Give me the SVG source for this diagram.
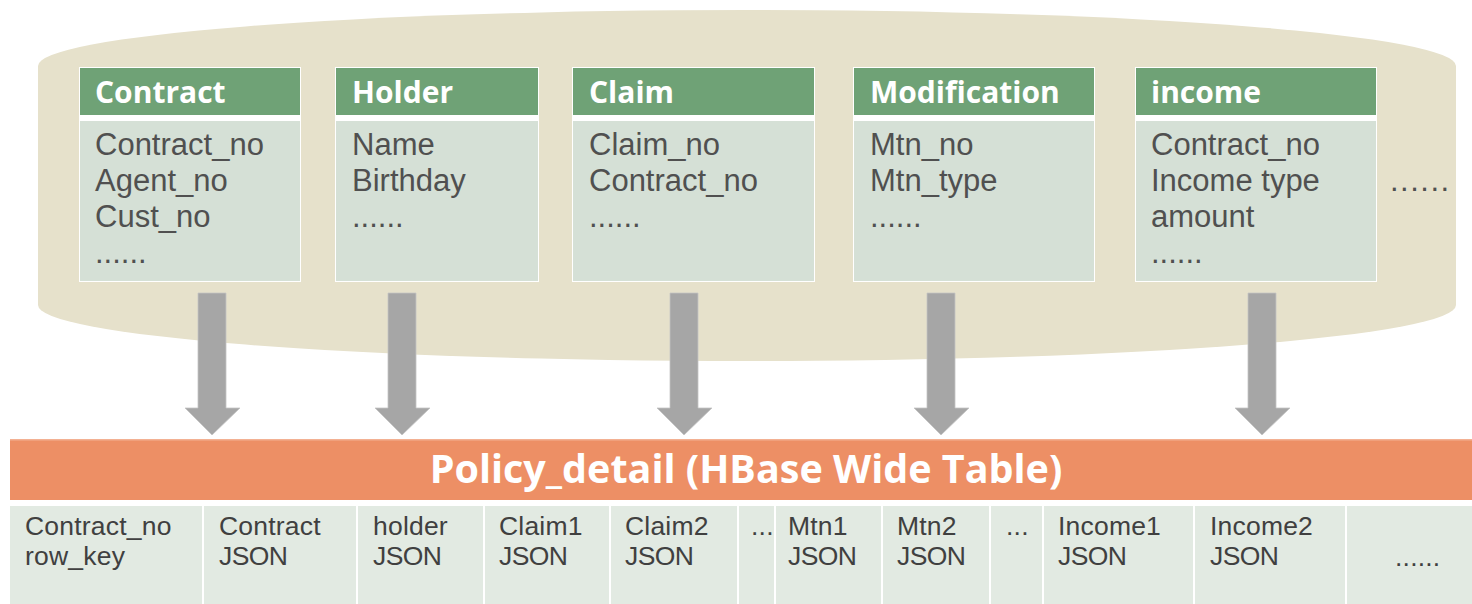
<svg xmlns="http://www.w3.org/2000/svg" width="1472" height="604" viewBox="0 0 1472 604">
<style>
.hd{fill:#6fa276}
.bd{fill:#d5e0d6}
.frame{fill:#ffffff}
.ht{font-family:"Open Sans","Noto Sans",sans-serif;font-weight:bold;font-size:30px;fill:#ffffff}
.bt{font-family:"Liberation Sans",Arial,sans-serif;font-size:31px;fill:#505050}
.cell{fill:#e2eae2}
.ct{font-family:"Liberation Sans",Arial,sans-serif;font-size:26.5px;letter-spacing:0.2px;fill:#404040}
.arrow{fill:#a6a6a6;stroke:#c4c4c4;stroke-width:0.8}
.title{font-family:"Open Sans","Noto Sans",sans-serif;font-weight:bold;font-size:39.5px;fill:#ffffff}
</style>
<rect width="1472" height="604" fill="#ffffff"/>
<g id="source-db">
<path d="M38,66 A709,56 0 0 1 1456,66 L1456,305 A709,56 0 0 1 38,305 Z" fill="#e6e1cb"/>
</g>
<g id="node-contract">
<rect class="frame" x="79" y="67" width="222" height="215"/>
<rect class="hd" x="80" y="68" width="220" height="47"/>
<rect class="bd" x="80" y="121" width="220" height="160"/>
<text class="ht" x="95" y="103">Contract</text>
<text class="bt" y="155"><tspan x="95">Contract_no</tspan><tspan x="95" dy="36">Agent_no</tspan><tspan x="95" dy="36">Cust_no</tspan><tspan x="95" dy="36">......</tspan></text>
</g>
<g id="node-holder">
<rect class="frame" x="335" y="67" width="204" height="215"/>
<rect class="hd" x="336" y="68" width="202" height="47"/>
<rect class="bd" x="336" y="121" width="202" height="160"/>
<text class="ht" x="352" y="103">Holder</text>
<text class="bt" y="155"><tspan x="352">Name</tspan><tspan x="352" dy="36">Birthday</tspan><tspan x="352" dy="36">......</tspan></text>
</g>
<g id="node-claim">
<rect class="frame" x="572" y="67" width="243" height="215"/>
<rect class="hd" x="573" y="68" width="241" height="47"/>
<rect class="bd" x="573" y="121" width="241" height="160"/>
<text class="ht" x="589" y="103">Claim</text>
<text class="bt" y="155"><tspan x="589">Claim_no</tspan><tspan x="589" dy="36">Contract_no</tspan><tspan x="589" dy="36">......</tspan></text>
</g>
<g id="node-modification">
<rect class="frame" x="853" y="67" width="242" height="215"/>
<rect class="hd" x="854" y="68" width="240" height="47"/>
<rect class="bd" x="854" y="121" width="240" height="160"/>
<text class="ht" x="870" y="103">Modification</text>
<text class="bt" y="155"><tspan x="870">Mtn_no</tspan><tspan x="870" dy="36">Mtn_type</tspan><tspan x="870" dy="36">......</tspan></text>
</g>
<g id="node-income">
<rect class="frame" x="1135" y="67" width="242" height="215"/>
<rect class="hd" x="1136" y="68" width="240" height="47"/>
<rect class="bd" x="1136" y="121" width="240" height="160"/>
<text class="ht" x="1151" y="103">income</text>
<text class="bt" y="155"><tspan x="1151">Contract_no</tspan><tspan x="1151" dy="36">Income type</tspan><tspan x="1151" dy="36">amount</tspan><tspan x="1151" dy="36">......</tspan></text>
</g>
<g id="node-more">
<text class="bt" x="1390" y="191" letter-spacing="1.5">......</text>
</g>
<g id="connectors">
<polygon class="arrow" points="198,293 226,293 226,408 240,408 212,435 185,408 198,408"/>
<polygon class="arrow" points="388,293 416,293 416,408 430,408 402,435 375,408 388,408"/>
<polygon class="arrow" points="670,293 698,293 698,408 712,408 684,435 657,408 670,408"/>
<polygon class="arrow" points="927,293 955,293 955,408 969,408 941,435 914,408 927,408"/>
<polygon class="arrow" points="1248,293 1276,293 1276,408 1290,408 1262,435 1235,408 1248,408"/>
</g>
<g id="node-policy-detail">
<rect x="10" y="439" width="1462" height="61" fill="#ed8f65"/>
<rect x="10" y="439" width="1462" height="1.5" fill="#f3b193"/>
<text class="title" x="746" y="483" text-anchor="middle">Policy_detail (HBase Wide Table)</text>
</g>
<g id="node-columns">
<rect class="cell" x="10" y="506" width="192" height="98"/>
<rect class="cell" x="204" y="506" width="152" height="98"/>
<rect class="cell" x="358" y="506" width="125" height="98"/>
<rect class="cell" x="485" y="506" width="124" height="98"/>
<rect class="cell" x="611" y="506" width="126" height="98"/>
<rect class="cell" x="739" y="506" width="35" height="98"/>
<rect class="cell" x="776" y="506" width="105" height="98"/>
<rect class="cell" x="883" y="506" width="106" height="98"/>
<rect class="cell" x="991" y="506" width="51" height="98"/>
<rect class="cell" x="1044" y="506" width="149" height="98"/>
<rect class="cell" x="1195" y="506" width="150" height="98"/>
<rect class="cell" x="1347" y="506" width="125" height="98"/>
<text class="ct" y="535"><tspan x="25">Contract_no</tspan><tspan x="25" dy="30">row_key</tspan></text>
<text class="ct" y="535"><tspan x="219">Contract</tspan><tspan x="219" dy="30" letter-spacing="-0.6">JSON</tspan></text>
<text class="ct" y="535"><tspan x="373">holder</tspan><tspan x="373" dy="30" letter-spacing="-0.6">JSON</tspan></text>
<text class="ct" y="535"><tspan x="499">Claim1</tspan><tspan x="499" dy="30" letter-spacing="-0.6">JSON</tspan></text>
<text class="ct" y="535"><tspan x="625">Claim2</tspan><tspan x="625" dy="30" letter-spacing="-0.6">JSON</tspan></text>
<text class="ct" x="751" y="535" letter-spacing="-1">...</text>
<text class="ct" y="535"><tspan x="788">Mtn1</tspan><tspan x="788" dy="30" letter-spacing="-0.6">JSON</tspan></text>
<text class="ct" y="535"><tspan x="897">Mtn2</tspan><tspan x="897" dy="30" letter-spacing="-0.6">JSON</tspan></text>
<text class="ct" x="1006" y="535" letter-spacing="-1">...</text>
<text class="ct" y="535"><tspan x="1058">Income1</tspan><tspan x="1058" dy="30" letter-spacing="-0.6">JSON</tspan></text>
<text class="ct" y="535"><tspan x="1210">Income2</tspan><tspan x="1210" dy="30" letter-spacing="-0.6">JSON</tspan></text>
<text class="ct" x="1395" y="566" letter-spacing="-0.4">......</text>
</g>
</svg>
